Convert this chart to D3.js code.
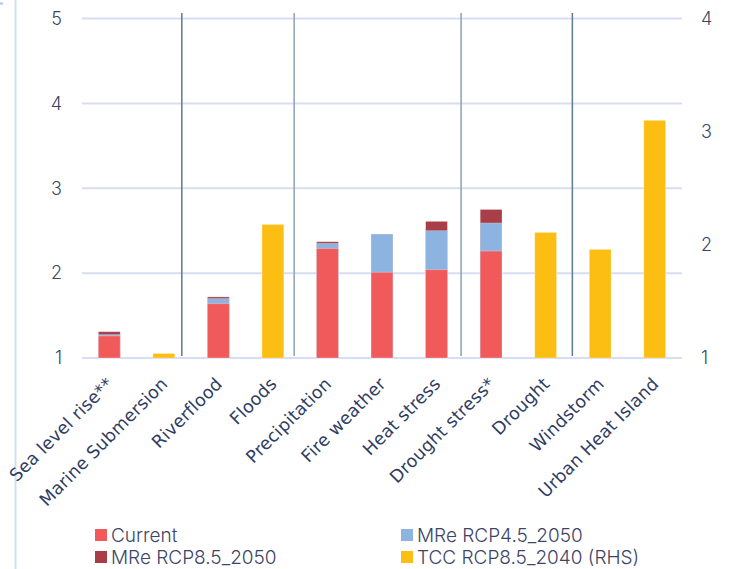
<!DOCTYPE html>
<html>
<head>
<meta charset="utf-8">
<script src="https://cdn.jsdelivr.net/npm/d3@7"></script>
<style>
  html, body { margin: 0; padding: 0; background: #ffffff; }
  svg { display: block; }
</style>
</head>
<body>
<svg id="chart" width="729" height="569"></svg>
<script>
// Hazard categories along the x axis
const categories = [
  "Sea level rise**", "Marine Submersion", "Riverflood", "Floods",
  "Precipitation", "Fire weather", "Heat stress", "Drought stress*",
  "Drought", "Windstorm", "Urban Heat Island"
];

// Left-hand scale series (null = no bar)
const current = [1.26, null, 1.64, null, 2.29, 2.01, 2.04, 2.26, null, null, null];
const mreRcp45 = [1.275, null, 1.70, null, 2.35, 2.46, 2.50, 2.59, null, null, null];
const mreRcp85 = [1.31, null, 1.72, null, 2.37, 2.46, 2.61, 2.75, null, null, null];

// Right-hand scale series
const tccRcp85 = [null, 1.04, null, 2.18, null, null, null, null, 2.11, 1.96, 3.10];

// Axis ticks
const leftTicks = [1, 2, 3, 4, 5];
const rightTicks = [1, 2, 3, 4];

// Group dividers, expressed in category-step units from the first category slot
const dividers = [
  { pos: 1.83, color: "#5f7891" },
  { pos: 3.89, color: "#8ea3b7" },
  { pos: 6.95, color: "#8aa1b6" },
  { pos: 8.99, color: "#5f7a91" }
];

const legendItems = [
  { label: "Current", color: "#f05a5b" },
  { label: "MRe RCP4.5_2050", color: "#8db3e0" },
  { label: "MRe RCP8.5_2050", color: "#a83e47" },
  { label: "TCC RCP8.5_2040 (RHS)", color: "#fdbe14" }
];

const svg = d3.select("#chart");
const plot = { left: 82, right: 682, top: 18.5, bottom: 358 };

const x = d3.scalePoint()
  .domain(categories)
  .range([plot.left, plot.right])
  .padding(0.5);
const step = x.step();
const barW = step * 0.4;

const yL = d3.scaleLinear().domain([1, 5]).range([plot.bottom, plot.top]);
const yR = d3.scaleLinear().domain([1, 4]).range([plot.bottom, plot.top]);

// Page frame accents
svg.append("line")
  .attr("x1", 15.5).attr("x2", 15.5).attr("y1", 0).attr("y2", 569)
  .attr("stroke", "#d3e0f3").attr("stroke-width", 2);
svg.append("line")
  .attr("x1", 0).attr("x2", 3).attr("y1", 3.5).attr("y2", 3.5)
  .attr("stroke", "#a9c3e8").attr("stroke-width", 2);

// Horizontal gridlines (left scale)
svg.append("g")
  .selectAll("line")
  .data(leftTicks)
  .join("line")
  .attr("x1", plot.left).attr("x2", plot.right)
  .attr("y1", d => yL(d)).attr("y2", d => yL(d))
  .attr("stroke", "#d8def1").attr("stroke-width", 2);

// Group divider lines
svg.append("g")
  .selectAll("line")
  .data(dividers)
  .join("line")
  .attr("x1", d => plot.left + d.pos * step)
  .attr("x2", d => plot.left + d.pos * step)
  .attr("y1", 13).attr("y2", 356)
  .attr("stroke", d => d.color).attr("stroke-width", 1.5);

// Bars: each scenario drawn from the baseline, higher scenarios behind
const barLayers = [
  { values: mreRcp85, color: legendItems[2].color, y: yL },
  { values: mreRcp45, color: legendItems[1].color, y: yL },
  { values: current, color: legendItems[0].color, y: yL },
  { values: tccRcp85, color: legendItems[3].color, y: yR }
];

barLayers.forEach(layer => {
  const rows = categories.map((c, i) => ({ c, v: layer.values[i] })).filter(d => d.v != null);
  svg.append("g")
    .selectAll("rect")
    .data(rows)
    .join("rect")
    .attr("x", d => x(d.c) - barW / 2)
    .attr("width", barW)
    .attr("y", d => layer.y(d.v))
    .attr("height", d => layer.y(1) - layer.y(d.v))
    .attr("fill", layer.color)
    .attr("stroke", "#ffffff").attr("stroke-opacity", 0.35).attr("stroke-width", 0.8);
});

// Left axis
const axisFont = "Inter, 'Noto Sans', sans-serif";
const gL = svg.append("g")
  .attr("transform", `translate(${plot.left - 20},0)`)
  .call(d3.axisLeft(yL).tickValues(leftTicks).tickSize(0).tickPadding(0).tickFormat(d3.format("d")));
gL.select(".domain").remove();
gL.selectAll("text")
  .attr("fill", "#3d4566").style("font-family", axisFont)
  .style("font-size", "18px").style("font-weight", 300);

// Right axis
const gR = svg.append("g")
  .attr("transform", `translate(${plot.right + 19},0)`)
  .call(d3.axisRight(yR).tickValues(rightTicks).tickSize(0).tickPadding(0).tickFormat(d3.format("d")));
gR.select(".domain").remove();
gR.selectAll("text")
  .attr("fill", "#3d4566").style("font-family", axisFont)
  .style("font-size", "18px").style("font-weight", 300);

// Category labels, rotated
svg.append("g")
  .selectAll("text")
  .data(categories)
  .join("text")
  .attr("transform", d => `translate(${x(d) + 5},${plot.bottom + 27}) rotate(-45)`)
  .attr("text-anchor", "end")
  .attr("fill", "#2f3c63")
  .style("font-family", "'DejaVu Sans', sans-serif")
  .style("font-size", "17.5px")
  .style("letter-spacing", "0.2px")
  .text(d => d);

// Legend
const legendPos = [
  { x: 95, y: 529 }, { x: 401, y: 529 },
  { x: 95, y: 551 }, { x: 401, y: 551 }
];
const lg = svg.append("g")
  .selectAll("g")
  .data(legendItems)
  .join("g")
  .attr("transform", (d, i) => `translate(${legendPos[i].x},${legendPos[i].y})`);
lg.append("rect")
  .attr("width", 12).attr("height", 12)
  .attr("fill", d => d.color);
lg.append("text")
  .attr("x", 16).attr("y", 13)
  .attr("fill", "#3d4566")
  .style("font-family", axisFont)
  .style("font-size", "19px")
  .style("font-weight", 300)
  .text(d => d.label);
</script>
</body>
</html>
